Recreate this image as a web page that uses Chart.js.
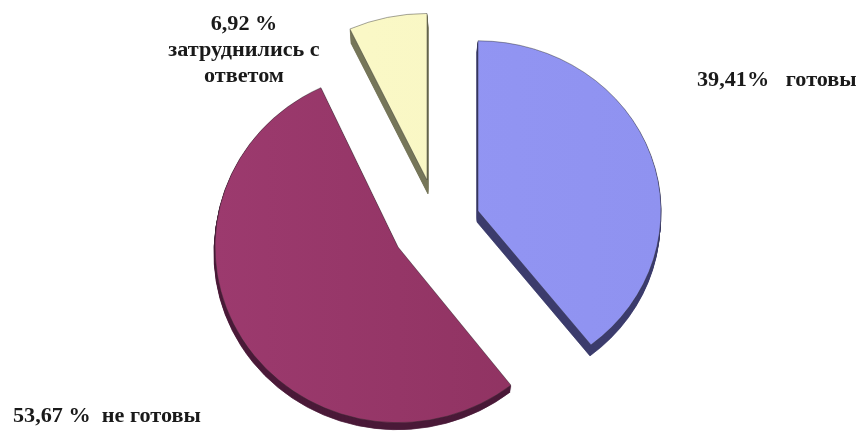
<!DOCTYPE html>
<html>
<head>
<meta charset="utf-8">
<script src="https://cdn.jsdelivr.net/npm/chart.js@4"></script>
<style>
    html, body { margin: 0; padding: 0; background: #fff; }
    #wrap { position: relative; width: 859px; height: 431px; overflow: hidden; }
    canvas { position: absolute; left: 0; top: 0; }
    .lbl {
        position: absolute;
        font: bold 20px "Liberation Serif", serif;
        color: #1a1a1a;
        white-space: pre;
        line-height: 26px;
        transform: scaleX(1.11);
        transform-origin: left center;
    }
</style>
</head>
<body>
<div id="wrap">
    <canvas id="pie" width="859" height="431"></canvas>
    <div class="lbl" id="lbl0" style="left:697px; top:66px;"></div>
    <div class="lbl" id="lbl1" style="left:13px; top:402px;"></div>
    <div class="lbl" id="lbl2" style="left:144px; top:10px; width:200px; text-align:center; transform-origin:center;"></div>
</div>
<script>
var categories = ['готовы', 'не готовы', 'затруднились с\nответом'];
var shares = [39.41, 53.67, 6.92];
var shareTexts = ['39,41%   готовы', '53,67 %  не готовы', '6,92 %\nзатруднились с\nответом'];

// top face and side colours
var faceFrom = ['#9497f5', '#9c3a6e', '#fbf9c8'];
var faceTo = ['#8f92f0', '#8e3260', '#f8f6c2'];
var sideColors = ['#3c3c6c', '#4a1a38', '#76765a'];

// each slice is pulled out by hand: apex of the top face, vertical squash, thickness
var apexX = [478, 398, 427];
var apexY = [211, 247, 180];
var squash = [0.93, 0.96, 0.91];
var depth = [11, 7, 14];
var sideLean = [-1, -1, 1];

shareTexts.forEach(function(t, i) {
    document.getElementById('lbl' + i).textContent = t;
});

var extrudedPie = {
    id: 'extrudedPie',
    beforeDatasetDraw: function(chart, args) {
        var ctx = chart.ctx;
        var arcs = chart.getDatasetMeta(args.index).data;
        arcs.forEach(function(arc, i) {
            var opts = arc.options;
            var bg = opts.backgroundColor, bc = opts.borderColor;

            ctx.save();
            ctx.translate(apexX[i], apexY[i]);
            ctx.scale(1, squash[i]);
            ctx.translate(-arc.x, -arc.y);

            // side wall, stacked copies of the slice
            opts.backgroundColor = sideColors[i];
            opts.borderColor = sideColors[i];
            for (var d = depth[i]; d > 0; d--) {
                ctx.save();
                ctx.translate(sideLean[i] * d / depth[i], d / squash[i]);
                arc.draw(ctx);
                ctx.restore();
            }

            opts.backgroundColor = bg;
            opts.borderColor = bc;
            arc.draw(ctx);
            ctx.restore();
        });
        return false;
    }
};

new Chart(document.getElementById('pie'), {
    type: 'pie',
    data: {
        labels: categories,
        datasets: [{
            data: shares,
            backgroundColor: function(c) {
                var g = c.chart.ctx.createLinearGradient(246, 0, 613, 0);
                g.addColorStop(0, faceFrom[c.dataIndex]);
                g.addColorStop(1, faceTo[c.dataIndex]);
                return g;
            },
            borderColor: 'rgba(40,40,40,0.55)',
            borderWidth: 0.8,
            borderJoinStyle: 'miter'
        }]
    },
    options: {
        responsive: false,
        animation: false,
        radius: 183,
        layout: { padding: 0 },
        plugins: {
            legend: { display: false },
            tooltip: { enabled: false }
        }
    },
    plugins: [extrudedPie]
});
</script>
</body>
</html>
